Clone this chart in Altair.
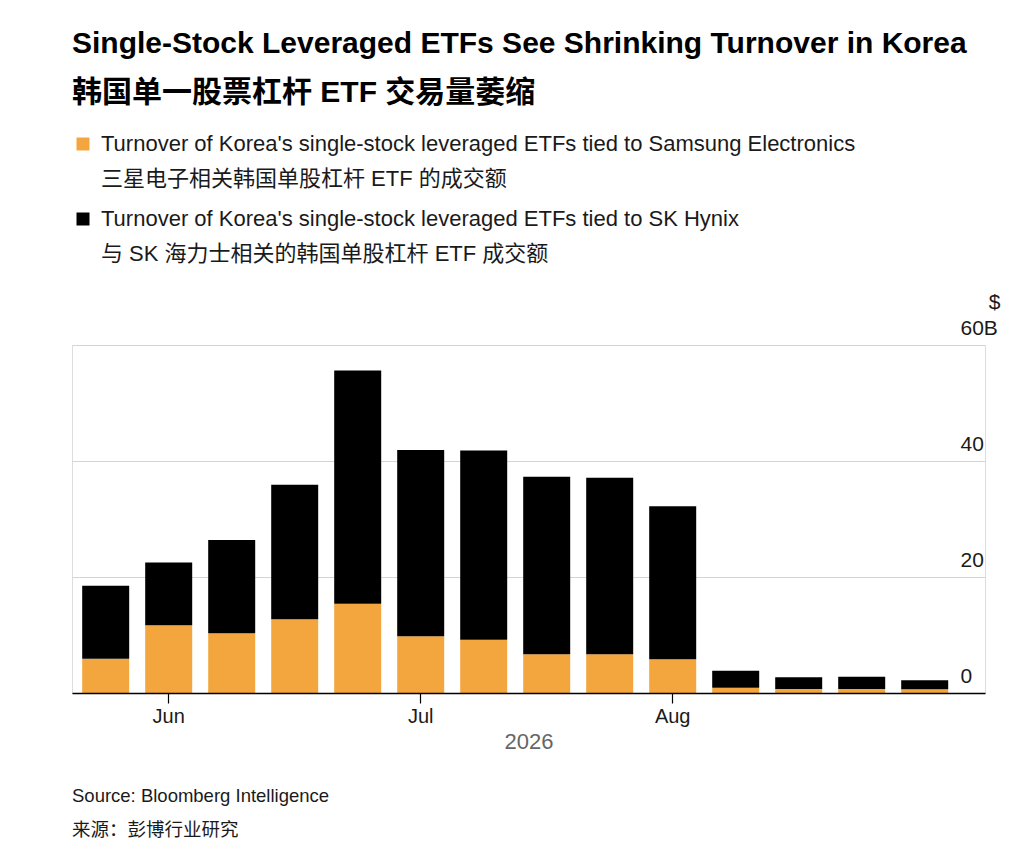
import json
import altair as alt
import pandas as pd

# ---- data ----
weeks = ["2026-05-25", "2026-06-01", "2026-06-08", "2026-06-15", "2026-06-22",
         "2026-06-29", "2026-07-06", "2026-07-13", "2026-07-20", "2026-07-27",
         "2026-08-03", "2026-08-10", "2026-08-17", "2026-08-24"]
samsung = [5.9, 11.7, 10.3, 12.7, 15.4, 9.8, 9.2, 6.7, 6.7, 5.8, 0.9, 0.7, 0.7, 0.65]
total = [18.5, 22.5, 26.4, 35.9, 55.6, 41.9, 41.8, 37.3, 37.1, 32.2, 3.85, 2.7, 2.8, 2.2]
hynix = [round(t - s, 2) for t, s in zip(total, samsung)]

series_en = ["Turnover of Korea's single-stock leveraged ETFs tied to Samsung Electronics",
             "Turnover of Korea's single-stock leveraged ETFs tied to SK Hynix"]
series_cn = ["三星电子相关韩国单股杠杆 ETF 的成交额",
             "与 SK 海力士相关的韩国单股杠杆 ETF 成交额"]
series_colors = ["#F4A63E", "#000000"]

tick_weeks = ["2026-06-01", "2026-06-29", "2026-07-27"]
tick_labels = ["Jun", "Jul", "Aug"]
y_ticks = [0, 20, 40, 60]

title_lines = ["Single-Stock Leveraged ETFs See Shrinking Turnover in Korea",
               "韩国单一股票杠杆 ETF 交易量萎缩"]
source_lines = ["Source: Bloomberg Intelligence", "来源：彭博行业研究"]

FONT = "Liberation Sans, Noto Sans CJK SC, sans-serif"
INK = "#1a1a1a"

rows = []
for i, w in enumerate(weeks):
    rows.append({"week": w, "series": series_en[0], "idx": 0, "value": samsung[i]})
    rows.append({"week": w, "series": series_en[1], "idx": 1, "value": hynix[i]})
df = pd.DataFrame(rows)

def q(s):
    return json.dumps(s, ensure_ascii=False)

legend_expr = (f"datum.label == {q(series_en[0])} ? [{q(series_en[0])}, {q(series_cn[0])}]"
               f" : [{q(series_en[1])}, {q(series_cn[1])}]")
x_expr = " : ".join(f"datum.value == {q(w)} ? {q(l)}" for w, l in zip(tick_weeks, tick_labels)) + " : ''"
# figure space keeps single-digit labels right-aligned with two-digit ones
y_expr = "datum.value == 60 ? '60B' : datum.value < 10 ? '\u2007' + datum.label : datum.label"

W, H = 913, 348

bars = alt.Chart(df).mark_bar().encode(
    x=alt.X("week:O", sort=weeks,
            scale=alt.Scale(paddingInner=0.254, paddingOuter=0.373, align=0.217),
            axis=alt.Axis(values=tick_weeks, labelExpr=x_expr, labelAngle=0,
                          title="2026", titleColor="#666666", titleFontSize=22,
                          titleFontWeight="normal", titleFont=FONT, titlePadding=5,
                          labelFont=FONT, labelFontSize=20, labelColor=INK, labelPadding=3,
                          tickSize=10, tickColor="#000000", tickWidth=1.2,
                          domainColor="#000000", domainWidth=1.6, grid=False, zindex=1)),
    y=alt.Y("value:Q", stack="zero",
            scale=alt.Scale(domain=[0, 60], nice=False),
            axis=alt.Axis(orient="right", values=y_ticks, grid=True, gridColor="#d4d4d4",
                          gridWidth=1, domain=False, ticks=False, tickSize=0,
                          labelAlign="left", labelBaseline="bottom", labelPadding=-25,
                          labelOffset=-7, labelFont=FONT, labelFontSize=21, labelColor=INK,
                          labelExpr=y_expr,
                          title="$", titleAngle=0, titleAlign="right", titleBaseline="bottom",
                          titleFont=FONT, titleFontSize=21, titleFontWeight="normal",
                          titleColor=INK, titleX=15, titleY=-33)),
    color=alt.Color("series:N", sort=series_en,
                    scale=alt.Scale(domain=series_en, range=series_colors),
                    legend=alt.Legend(title=None, orient="none", legendX=0, legendY=-212,
                                      direction="vertical", symbolType="square",
                                      symbolSize=169, symbolStrokeWidth=0,
                                      labelExpr=legend_expr, labelFont=FONT,
                                      labelFontSize=22, labelColor=INK, labelLimit=1000,
                                      labelOffset=7, rowPadding=18, padding=0)),
    order=alt.Order("idx:Q", sort="ascending"),
)

footer = alt.Chart(pd.DataFrame({"k": [0]})).mark_text(
    align="left", baseline="top", font=FONT, fontSize=18.5, color=INK, lineHeight=34
).encode(x=alt.value(0), y=alt.value(442), text=alt.value(source_lines))

chart = alt.layer(bars, footer).properties(
    width=W, height=H,
    title=alt.TitleParams(text=title_lines, anchor="start", frame="group", font=FONT,
                          fontSize=30, fontWeight="bold", color="#000000",
                          lineHeight=49, offset=25),
    autosize=alt.AutoSizeParams(type="none"),
    padding={"left": 64, "top": 337, "right": 33, "bottom": 160},
).configure_view(stroke=None).configure(
    background="white",
    style={"guide-label": {"lineHeight": 35}},
)

chart.save("out.html", embed_options={"renderer": "svg", "actions": False})
